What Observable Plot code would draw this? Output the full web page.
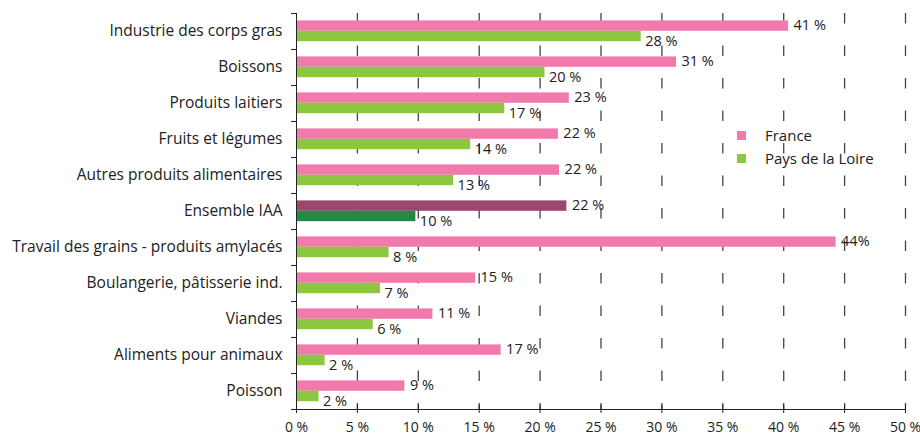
<!DOCTYPE html>
<html>
<head>
<meta charset="utf-8">
<script src="https://cdn.jsdelivr.net/npm/d3@7"></script>
<script src="https://cdn.jsdelivr.net/npm/@observablehq/plot@0.6"></script>
<style>
  html, body { margin: 0; padding: 0; background: #fff; }
  #wrap { position: relative; width: 920px; height: 437px; font-family: "Open Sans", sans-serif; color: #222; }
  #legend { position: absolute; left: 737px; top: 124px; font-size: 15px; line-height: 23px; }
  #legend .item { display: flex; align-items: center; }
  #legend .sw { width: 9px; height: 9px; margin-right: 19px; }
</style>
</head>
<body>
<div id="wrap"></div>
<script>
const categories = [
  "Industrie des corps gras",
  "Boissons",
  "Produits laitiers",
  "Fruits et légumes",
  "Autres produits alimentaires",
  "Ensemble IAA",
  "Travail des grains - produits amylacés",
  "Boulangerie, pâtisserie ind.",
  "Viandes",
  "Aliments pour animaux",
  "Poisson"
];
const france = [40.4, 31.2, 22.4, 21.5, 21.6, 22.2, 44.3, 14.7, 11.2, 16.8, 8.9];
const paysDeLaLoire = [28.3, 20.4, 17.1, 14.3, 12.9, 9.8, 7.6, 6.9, 6.3, 2.35, 1.85];
const franceLabels = ["41 %", "31 %", "23 %", "22 %", "22 %", "22 %", "44%", "15 %", "11 %", "17 %", "9 %"];
const pdlLabels = ["28 %", "20 %", "17 %", "14 %", "13 %", "10 %", "8 %", "7 %", "6 %", "2 %", "2 %"];
const xTicks = [0, 5, 10, 15, 20, 25, 30, 35, 40, 45, 50];
const series = ["France", "Pays de la Loire"];
const highlight = "Ensemble IAA";

const colors = {
  france: "#F07AAC",
  pdl: "#8DC63F",
  franceHi: "#9A466E",
  pdlHi: "#228A45"
};

const rows = categories.map((c, i) => ({
  category: c,
  france: france[i],
  pdl: paysDeLaLoire[i],
  franceLabel: franceLabels[i],
  pdlLabel: pdlLabels[i]
}));

const chart = Plot.plot({
  width: 920,
  height: 437,
  marginLeft: 296,
  marginRight: 15,
  marginTop: 13,
  marginBottom: 28,
  style: { fontFamily: "Open Sans, sans-serif", fontSize: "15px", color: "#222", background: "#fff" },
  x: { domain: [0, 50] },
  y: { domain: categories, padding: 0 },
  marks: [
    Plot.ruleX(xTicks.filter(d => d > 0), { x: d => d, stroke: "#444", strokeWidth: 1.3, strokeDasharray: "10.5,22" }),
    Plot.barX(rows, {
      x: "france", y: "category",
      fill: d => d.category === highlight ? colors.franceHi : colors.france,
      insetTop: 7.4, insetBottom: 18.2
    }),
    Plot.barX(rows, {
      x: "pdl", y: "category",
      fill: d => d.category === highlight ? colors.pdlHi : colors.pdl,
      insetTop: 17.8, insetBottom: 7.8
    }),
    Plot.text(rows, { x: "france", y: "category", text: "franceLabel", textAnchor: "start", dx: 5, dy: -6.5, fontSize: 14.5, fill: "#222" }),
    Plot.text(rows, { x: "pdl", y: "category", text: "pdlLabel", textAnchor: "start", dx: 4, dy: 9.5, fontSize: 14.5, fill: "#222" }),
    Plot.frame({ anchor: "left", stroke: "#222" }),
    Plot.frame({ anchor: "bottom", stroke: "#222", insetLeft: -5 }),
    Plot.ruleY(categories, { y: d => d, x1: 0, x2: 0, insetLeft: -5, dy: -18, stroke: "#222" }),
    Plot.axisY({ tickSize: 0, tickPadding: 14, fontSize: 15.5, label: null }),
    Plot.axisX({ ticks: xTicks, tickSize: 8, dy: -4, tickFormat: () => "", label: null, stroke: "#222" }),
    Plot.axisX({ ticks: xTicks, tickSize: 0, tickPadding: 13, tickFormat: d => d + " %", fontSize: 14, label: null })
  ]
});

const wrap = document.getElementById("wrap");
wrap.appendChild(chart);

const legend = document.createElement("div");
legend.id = "legend";
const legendColors = [colors.france, colors.pdl];
series.forEach((s, i) => {
  const item = document.createElement("div");
  item.className = "item";
  const sw = document.createElement("span");
  sw.className = "sw";
  sw.style.background = legendColors[i];
  const label = document.createElement("span");
  label.textContent = s;
  item.appendChild(sw);
  item.appendChild(label);
  legend.appendChild(item);
});
wrap.appendChild(legend);
</script>
</body>
</html>
